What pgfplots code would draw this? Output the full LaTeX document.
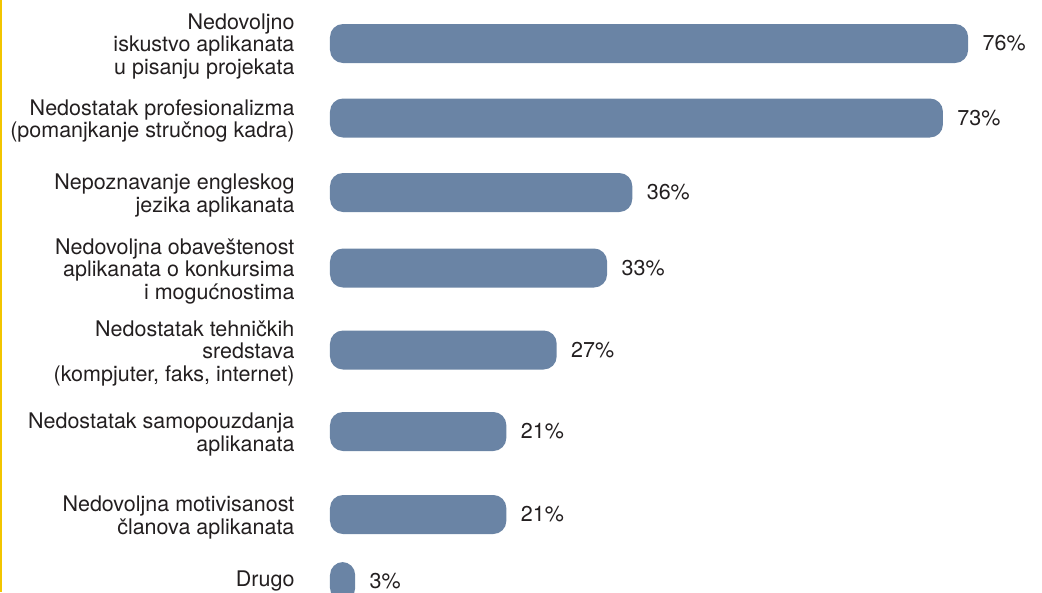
\documentclass[border=0pt]{standalone}
\usepackage{fontspec}
\setmainfont{TeX Gyre Heros}
\usepackage{pgfplots}
\pgfplotsset{compat=1.18}
\definecolor{barcol}{HTML}{6A84A5}
\definecolor{txtcol}{HTML}{231F20}
\definecolor{ylw}{HTML}{F2C500}
\begin{document}
\begin{tikzpicture}[x=1pt,y=1pt]
\useasboundingbox (0,0) rectangle (1042,592);
\fill[ylw] (0,0) rectangle (2,592);
\begin{axis}[
  at={(330pt,0pt)}, anchor=south west,
  scale only axis, width=712pt, height=592pt,
  xmin=0, xmax=84.8, ymin=0, ymax=592, y dir=reverse,
  axis line style={draw=none}, major tick length=0pt,
  xtick=\empty,
  /pgf/number format/assume math mode=true,
  xbar, bar width=39pt, bar shift=0pt,
  ytick={43.5,118,192.5,268,350,431.5,514.5,577.5},
  yticklabels={
    {Nedovoljno\\iskustvo aplikanata\\u pisanju projekata},
    {Nedostatak profesionalizma\\(pomanjkanje stručnog kadra)},
    {Nepoznavanje engleskog\\jezika aplikanata},
    {Nedovoljna obaveštenost\\aplikanata o konkursima\\i mogućnostima},
    {Nedostatak tehničkih\\sredstava\\(kompjuter, faks, internet)},
    {Nedostatak samopouzdanja\\aplikanata},
    {Nedovoljna motivisanost\\članova aplikanata},
    {Drugo}},
  yticklabel style={align=right, font=\fontsize{21.5}{22.5}\selectfont, text=txtcol, xshift=-32pt, yshift=-3pt},
  nodes near coords={\pgfmathprintnumber{\pgfplotspointmeta}\%},
  every node near coord/.append style={anchor=west, xshift=11pt, font=\fontsize{21.5}{22.5}\selectfont, text=txtcol},
  clip=false,
]
\addplot[fill=barcol, draw=none, rounded corners=13pt] coordinates {
  (76,43.5) (73,118) (36,192.5) (33,268) (27,350) (21,431.5) (21,514.5) (3,581.5)
};
\end{axis}
\end{tikzpicture}
\end{document}
